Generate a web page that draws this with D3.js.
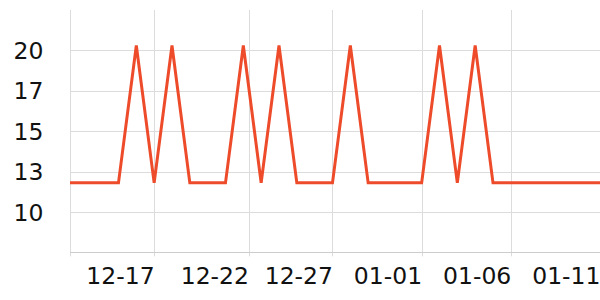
<!DOCTYPE html>
<html><head><meta charset="utf-8">
<script src="https://cdn.jsdelivr.net/npm/d3@7"></script>
<style>html,body{margin:0;padding:0;background:#fff;}svg{display:block;font-family:"DejaVu Sans",sans-serif;}</style>
</head><body>
<svg id="c" width="600" height="300"></svg>
<script>
// Data
const dates = ["2023-12-12T06:45","2023-12-13","2023-12-14","2023-12-15","2023-12-16","2023-12-17","2023-12-18","2023-12-19",
  "2023-12-20","2023-12-21","2023-12-22","2023-12-23","2023-12-24","2023-12-25","2023-12-26","2023-12-27",
  "2023-12-28","2023-12-29","2023-12-30","2023-12-31","2024-01-01","2024-01-02","2024-01-03","2024-01-04",
  "2024-01-05","2024-01-06","2024-01-07","2024-01-08","2024-01-09","2024-01-10","2024-01-11"];
const values = [11.8,11.8,11.8,11.8,20.3,11.8,20.3,11.8,
  11.8,11.8,20.3,11.8,20.3,11.8,11.8,11.8,
  20.3,11.8,11.8,11.8,11.8,20.3,11.8,20.3,
  11.8,11.8,11.8,11.8,11.8,11.8,11.8];
const xTickDates = ["2023-12-17","2023-12-22T07:00","2023-12-27","2024-01-01","2024-01-06","2024-01-11"];
const yTickValues = [10,12.5,15,17.5,20];
const yTickLabels = ["10","13","15","17","20"];

(function(){
const parse = d3.isoParse;
const data = dates.map((d,i)=>({t:parse(d), v:values[i]}));

const svg = d3.select("#c");
const mLeft = 70, mRight = 600, mTop = 10, mBottom = 252.3;

const x = d3.scaleTime().domain([parse(dates[0]), parse(dates[dates.length-1])]).range([mLeft, mRight]);
const y = d3.scaleLinear().domain([7.5, 22.5]).range([mBottom, mTop]);

// horizontal grid
svg.append("g").selectAll("line").data(yTickValues).join("line")
  .attr("x1", mLeft).attr("x2", mRight)
  .attr("y1", d=>Math.round(y(d))+0.5).attr("y2", d=>Math.round(y(d))+0.5)
  .attr("stroke", "#dcdcdc").attr("stroke-width", 1);

// vertical grid incl. left edge
const xt = xTickDates.map(parse);
const vx = [mLeft].concat(xt.map(d=>x(d)));
svg.append("g").selectAll("line").data(vx).join("line")
  .attr("x1", d=>Math.round(d)+0.5).attr("x2", d=>Math.round(d)+0.5)
  .attr("y1", mTop).attr("y2", mBottom+4)
  .attr("stroke", "#dcdcdc").attr("stroke-width", 1);

// bottom axis line
svg.append("line").attr("x1", mLeft).attr("x2", mRight)
  .attr("y1", Math.round(mBottom)+0.5).attr("y2", Math.round(mBottom)+0.5)
  .attr("stroke", "#cccccc").attr("stroke-width", 1);

// y labels
svg.append("g").selectAll("text").data(yTickValues).join("text")
  .attr("x", 43.5).attr("y", d=>y(d)).attr("dy", "0.37em")
  .attr("text-anchor", "end").attr("font-size", 23.5).attr("fill", "#111")
  .text((d,i)=>yTickLabels[i]);

// x labels (right-aligned at tick)
const fmt = d3.timeFormat("%m-%d");
svg.append("g").selectAll("text").data(xt).join("text")
  .attr("x", d=>x(d)+0.5).attr("y", 283.5)
  .attr("text-anchor", "end").attr("font-size", 23.5).attr("fill", "#111")
  .text(d=>fmt(d));

// line
svg.append("path").datum(data)
  .attr("d", d3.line().x(d=>x(d.t)).y(d=>y(d.v)))
  .attr("fill", "none").attr("stroke", "#ee4b2b").attr("stroke-width", 3)
  .attr("stroke-linejoin", "miter").attr("stroke-miterlimit", 4);
})();
</script>
</body></html>
